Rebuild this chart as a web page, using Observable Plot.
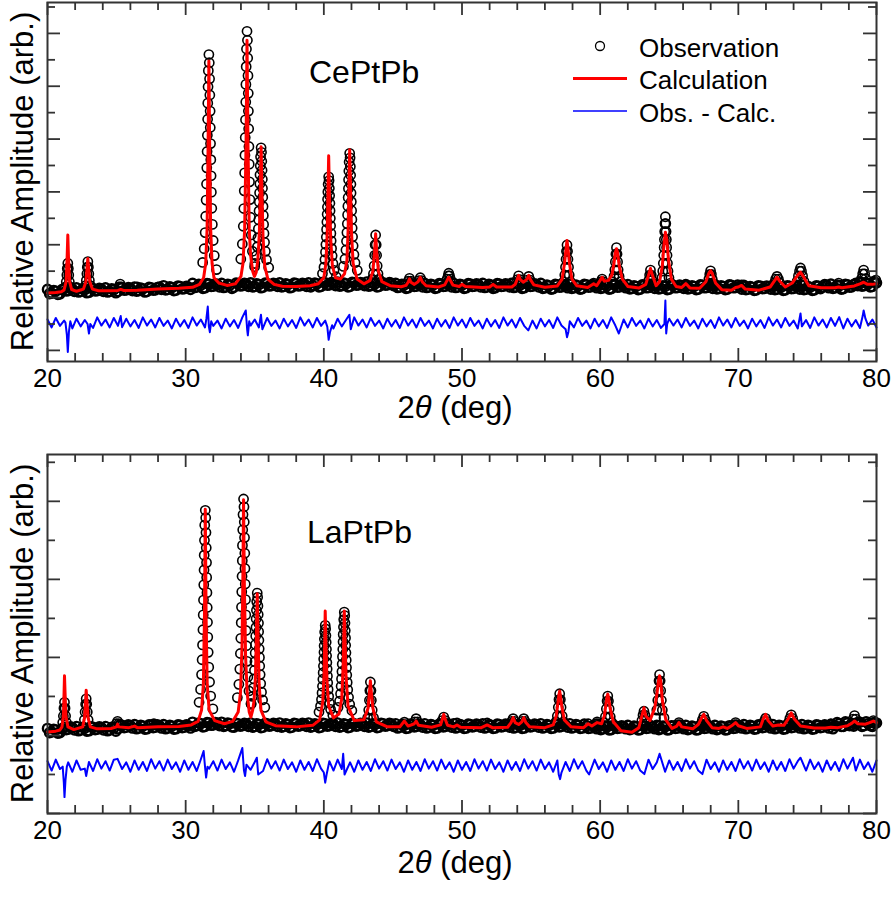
<!DOCTYPE html>
<html><head><meta charset="utf-8">
<script src="https://cdn.jsdelivr.net/npm/d3@7"></script>
<script src="https://cdn.jsdelivr.net/npm/@observablehq/plot@0.6"></script>
<style>body{margin:0;background:#fff} #chart svg{display:block}</style>
</head><body><div id="chart"></div>
<script>
// ---------- axes ----------
const xTickLabels = [20, 30, 40, 50, 60, 70, 80];
const xMajorTicks = [20, 30, 40, 50, 60, 70, 80];
const xMinorTicks = [22, 24, 26, 28, 32, 34, 36, 38, 42, 44, 46, 48, 52, 54, 56, 58, 62, 64, 66, 68, 72, 74, 76, 78];
const ceYMajor = [0, 2, 4, 6, 8, 10, 12];
const ceYMinor = [1, 3, 5, 7, 9, 11, 13];
const laYMajor = [0, 2, 4, 6, 8];
const laYMinor = [1, 3, 5, 7, 9];
const legendLabels = ["Observation", "Calculation", "Obs. - Calc."];

// ---------- CePtPb (top) ----------
const ceObsBase = [[20.0,2.31],[20.3,2.17],[20.6,2.24],[20.9,2.14],[21.2,2.34],[21.5,2.26],[21.8,2.32],[22.1,2.37],[22.4,2.23],[22.7,2.30],[23.0,2.20],[23.3,2.34],[23.6,2.26],[23.9,2.32],[24.2,2.37],[24.5,2.23],[24.8,2.30],[25.1,2.23],[25.4,2.37],[25.7,2.29],[26.0,2.35],[26.3,2.40],[26.6,2.26],[26.9,2.33],[27.2,2.23],[27.5,2.37],[27.8,2.29],[28.1,2.40],[28.4,2.45],[28.7,2.31],[29.0,2.38],[29.3,2.28],[29.6,2.42],[29.9,2.34],[30.2,2.40],[30.5,2.54],[30.8,2.40],[31.1,2.47],[31.4,2.37],[31.7,2.51],[32.0,2.43],[32.3,2.49],[32.6,2.54],[32.9,2.40],[33.2,2.47],[33.5,2.39],[33.8,2.53],[34.1,2.45],[34.4,2.51],[34.7,2.56],[35.0,2.42],[35.3,2.49],[35.6,2.39],[35.9,2.53],[36.2,2.45],[36.5,2.51],[36.8,2.56],[37.1,2.42],[37.4,2.49],[37.7,2.39],[38.0,2.53],[38.3,2.45],[38.6,2.51],[38.9,2.56],[39.2,2.45],[39.5,2.52],[39.8,2.42],[40.1,2.56],[40.4,2.48],[40.7,2.54],[41.0,2.59],[41.3,2.45],[41.6,2.52],[41.9,2.42],[42.2,2.56],[42.5,2.48],[42.8,2.54],[43.1,2.59],[43.4,2.45],[43.7,2.52],[44.0,2.42],[44.3,2.56],[44.6,2.48],[44.9,2.54],[45.2,2.54],[45.5,2.40],[45.8,2.47],[46.1,2.37],[46.4,2.51],[46.7,2.43],[47.0,2.49],[47.3,2.54],[47.6,2.40],[47.9,2.47],[48.2,2.37],[48.5,2.51],[48.8,2.43],[49.1,2.49],[49.4,2.54],[49.7,2.40],[50.0,2.47],[50.3,2.37],[50.6,2.51],[50.9,2.43],[51.2,2.49],[51.5,2.54],[51.8,2.40],[52.1,2.47],[52.4,2.37],[52.7,2.51],[53.0,2.43],[53.3,2.49],[53.6,2.54],[53.9,2.40],[54.2,2.47],[54.5,2.37],[54.8,2.51],[55.1,2.43],[55.4,2.49],[55.7,2.54],[56.0,2.37],[56.3,2.44],[56.6,2.34],[56.9,2.48],[57.2,2.40],[57.5,2.46],[57.8,2.51],[58.1,2.37],[58.4,2.44],[58.7,2.34],[59.0,2.48],[59.3,2.40],[59.6,2.46],[59.9,2.51],[60.2,2.37],[60.5,2.44],[60.8,2.34],[61.1,2.48],[61.4,2.40],[61.7,2.46],[62.0,2.49],[62.3,2.35],[62.6,2.42],[62.9,2.32],[63.2,2.46],[63.5,2.38],[63.8,2.44],[64.1,2.49],[64.4,2.35],[64.7,2.42],[65.0,2.32],[65.3,2.46],[65.6,2.38],[65.9,2.44],[66.2,2.49],[66.5,2.35],[66.8,2.42],[67.1,2.32],[67.4,2.46],[67.7,2.38],[68.0,2.44],[68.3,2.49],[68.6,2.35],[68.9,2.42],[69.2,2.32],[69.5,2.46],[69.8,2.38],[70.1,2.41],[70.4,2.46],[70.7,2.32],[71.0,2.39],[71.3,2.29],[71.6,2.43],[71.9,2.35],[72.2,2.41],[72.5,2.46],[72.8,2.32],[73.1,2.39],[73.4,2.29],[73.7,2.43],[74.0,2.35],[74.3,2.41],[74.6,2.46],[74.9,2.32],[75.2,2.39],[75.5,2.29],[75.8,2.43],[76.1,2.40],[76.4,2.46],[76.7,2.51],[77.0,2.37],[77.3,2.44],[77.6,2.34],[77.9,2.48],[78.2,2.40],[78.5,2.54],[78.8,2.59],[79.1,2.45],[79.4,2.52],[79.7,2.42],[80.0,2.56]];
const ceObsBase2 = [[20.15,2.15],[20.45,2.27],[20.75,2.12],[21.05,2.30],[21.35,2.25],[21.65,2.35],[21.95,2.23],[22.25,2.21],[22.55,2.33],[22.85,2.18],[23.15,2.36],[23.45,2.25],[23.75,2.35],[24.05,2.23],[24.35,2.21],[24.65,2.33],[24.95,2.18],[25.25,2.39],[25.55,2.28],[25.85,2.38],[26.15,2.26],[26.45,2.24],[26.75,2.36],[27.05,2.21],[27.35,2.39],[27.65,2.28],[27.95,2.38],[28.25,2.31],[28.55,2.29],[28.85,2.41],[29.15,2.26],[29.45,2.44],[29.75,2.33],[30.05,2.43],[30.35,2.31],[30.65,2.38],[30.95,2.50],[31.25,2.35],[31.55,2.53],[31.85,2.42],[32.15,2.52],[32.45,2.40],[32.75,2.38],[33.05,2.50],[33.35,2.35],[33.65,2.55],[33.95,2.44],[34.25,2.54],[34.55,2.42],[34.85,2.40],[35.15,2.52],[35.45,2.37],[35.75,2.55],[36.05,2.44],[36.35,2.54],[36.65,2.42],[36.95,2.40],[37.25,2.52],[37.55,2.37],[37.85,2.55],[38.15,2.44],[38.45,2.54],[38.75,2.42],[39.05,2.40],[39.35,2.55],[39.65,2.40],[39.95,2.58],[40.25,2.47],[40.55,2.57],[40.85,2.45],[41.15,2.43],[41.45,2.55],[41.75,2.40],[42.05,2.58],[42.35,2.47],[42.65,2.57],[42.95,2.45],[43.25,2.43],[43.55,2.55],[43.85,2.40],[44.15,2.58],[44.45,2.47],[44.75,2.57],[45.05,2.45],[45.35,2.38],[45.65,2.50],[45.95,2.35],[46.25,2.53],[46.55,2.42],[46.85,2.52],[47.15,2.40],[47.45,2.38],[47.75,2.50],[48.05,2.35],[48.35,2.53],[48.65,2.42],[48.95,2.52],[49.25,2.40],[49.55,2.38],[49.85,2.50],[50.15,2.35],[50.45,2.53],[50.75,2.42],[51.05,2.52],[51.35,2.40],[51.65,2.38],[51.95,2.50],[52.25,2.35],[52.55,2.53],[52.85,2.42],[53.15,2.52],[53.45,2.40],[53.75,2.38],[54.05,2.50],[54.35,2.35],[54.65,2.53],[54.95,2.42],[55.25,2.52],[55.55,2.40],[55.85,2.35],[56.15,2.47],[56.45,2.32],[56.75,2.50],[57.05,2.39],[57.35,2.49],[57.65,2.37],[57.95,2.35],[58.25,2.47],[58.55,2.32],[58.85,2.50],[59.15,2.39],[59.45,2.49],[59.75,2.37],[60.05,2.35],[60.35,2.47],[60.65,2.32],[60.95,2.50],[61.25,2.39],[61.55,2.49],[61.85,2.37],[62.15,2.33],[62.45,2.45],[62.75,2.30],[63.05,2.48],[63.35,2.37],[63.65,2.47],[63.95,2.35],[64.25,2.33],[64.55,2.45],[64.85,2.30],[65.15,2.48],[65.45,2.37],[65.75,2.47],[66.05,2.35],[66.35,2.33],[66.65,2.45],[66.95,2.30],[67.25,2.48],[67.55,2.37],[67.85,2.47],[68.15,2.35],[68.45,2.33],[68.75,2.45],[69.05,2.30],[69.35,2.48],[69.65,2.37],[69.95,2.47],[70.25,2.32],[70.55,2.30],[70.85,2.42],[71.15,2.27],[71.45,2.45],[71.75,2.34],[72.05,2.44],[72.35,2.32],[72.65,2.30],[72.95,2.42],[73.25,2.27],[73.55,2.45],[73.85,2.34],[74.15,2.44],[74.45,2.32],[74.75,2.30],[75.05,2.42],[75.35,2.27],[75.65,2.45],[75.95,2.34],[76.25,2.49],[76.55,2.37],[76.85,2.35],[77.15,2.47],[77.45,2.32],[77.75,2.50],[78.05,2.39],[78.35,2.49],[78.65,2.45],[78.95,2.43],[79.25,2.55],[79.55,2.40],[79.85,2.58]];
const ceObsPeaks = [[21.47,3.30],[21.43,3.1],[21.51,3.1],[21.40,2.85],[21.54,2.85],[21.36,2.6],[21.58,2.6],[21.3,2.4],[21.65,2.4],
[22.92,3.36],[22.88,3.15],[22.96,3.15],[22.85,2.9],[22.99,2.9],[22.81,2.65],[23.03,2.65],[22.75,2.45],[23.1,2.45],
[25.15,2.4],[25.26,2.51],[25.37,2.4],[26.5,2.4],
[31.68,11.20],[31.64,10.59],[31.62,9.98],[31.60,9.36],[31.59,8.75],[31.57,8.14],[31.55,7.53],[31.53,6.91],[31.51,6.30],[31.48,5.69],[31.45,5.08],[31.41,4.46],[31.34,3.85],[31.23,3.33],
[31.71,10.89],[31.73,10.28],[31.75,9.67],[31.77,9.06],[31.78,8.44],[31.80,7.83],[31.82,7.22],[31.84,6.61],[31.86,5.99],[31.89,5.38],[31.93,4.77],[31.99,4.16],[32.07,3.59],[32.23,3.06],
[34.44,12.08],[34.40,11.41],[34.38,10.74],[34.36,10.07],[34.35,9.40],[34.33,8.73],[34.31,8.06],[34.29,7.39],[34.27,6.72],[34.24,6.04],[34.21,5.37],[34.17,4.70],[34.10,4.03],[33.99,3.46],
[34.47,11.74],[34.49,11.07],[34.51,10.40],[34.53,9.73],[34.54,9.06],[34.56,8.39],[34.58,7.72],[34.60,7.05],[34.62,6.38],[34.65,5.71],[34.69,5.04],[34.75,4.37],[34.83,3.75],[34.99,3.17],
[35.46,7.67],[35.42,7.33],[35.40,6.99],[35.38,6.65],[35.37,6.31],[35.35,5.97],[35.33,5.62],[35.31,5.28],[35.29,4.94],[35.26,4.60],[35.23,4.26],[35.19,3.92],[35.12,3.58],[35.01,3.29],
[35.49,7.50],[35.51,7.16],[35.53,6.82],[35.55,6.48],[35.56,6.14],[35.58,5.80],[35.60,5.45],[35.62,5.11],[35.64,4.77],[35.67,4.43],[35.71,4.09],[35.77,3.75],[35.85,3.43],[36.01,3.14],
[40.35,6.57],[40.31,6.29],[40.29,6.00],[40.27,5.72],[40.26,5.43],[40.24,5.15],[40.22,4.86],[40.20,4.58],[40.18,4.29],[40.15,4.01],[40.12,3.72],[40.08,3.44],[40.01,3.15],[39.90,2.91],
[40.38,6.43],[40.40,6.14],[40.42,5.86],[40.44,5.57],[40.45,5.29],[40.47,5.00],[40.49,4.72],[40.51,4.43],[40.53,4.15],[40.56,3.86],[40.60,3.58],[40.66,3.29],[40.74,3.03],[40.90,2.79],
[41.87,7.46],[41.83,7.13],[41.81,6.79],[41.79,6.46],[41.78,6.13],[41.76,5.79],[41.74,5.46],[41.72,5.13],[41.70,4.79],[41.67,4.46],[41.64,4.13],[41.60,3.80],[41.53,3.46],[41.42,3.18],
[41.90,7.29],[41.92,6.96],[41.94,6.63],[41.96,6.29],[41.97,5.96],[41.99,5.63],[42.01,5.29],[42.03,4.96],[42.05,4.63],[42.08,4.30],[42.12,3.96],[42.18,3.63],[42.26,3.32],[42.42,3.03],
[43.75,4.37],[43.71,4.0],[43.79,4.0],[43.68,3.6],[43.82,3.6],[43.64,3.2],[43.86,3.2],[43.59,2.9],[43.92,2.9],[43.5,2.7],[44.0,2.7],
[46.1,2.62],[46.2,2.73],[46.3,2.62],[46.88,2.64],[46.98,2.75],[47.08,2.64],
[48.92,2.7],[49.0,2.82],[49.04,2.92],[49.1,2.82],[49.16,2.7],[50.0,2.48],[52.25,2.45],
[54.0,2.68],[54.1,2.82],[54.2,2.68],[54.73,2.66],[54.83,2.80],[54.93,2.66],
[57.6,3.99],[57.56,3.75],[57.64,3.75],[57.53,3.45],[57.67,3.45],[57.49,3.15],[57.71,3.15],[57.44,2.85],[57.76,2.85],[57.35,2.6],[57.85,2.6],
[59.53,2.55],[60.05,2.6],[60.14,2.70],[60.23,2.6],
[61.18,3.89],[61.14,3.65],[61.22,3.65],[61.1,3.35],[61.26,3.35],[61.06,3.05],[61.3,3.05],[61.0,2.8],[61.37,2.8],[60.9,2.6],[61.47,2.6],
[63.64,3.04],[63.58,2.85],[63.7,2.85],[63.52,2.65],[63.76,2.65],[63.44,2.5],
[64.72,5.06],[64.69,4.8],[64.75,4.8],[64.67,4.5],[64.77,4.5],[64.65,4.2],[64.79,4.2],[64.63,3.9],[64.81,3.9],[64.6,3.6],[64.84,3.6],[64.57,3.3],[64.87,3.3],[64.53,3.0],[64.91,3.0],[64.47,2.75],[64.98,2.75],[65.1,2.55],
[66.1,2.42],[66.2,2.48],[66.3,2.42],
[67.99,3.01],[67.93,2.88],[68.05,2.88],[67.87,2.7],[68.11,2.7],[67.78,2.52],[68.2,2.52],
[70.13,2.42],[70.23,2.48],[70.33,2.42],
[72.8,2.80],[72.7,2.7],[72.9,2.7],[72.6,2.55],[73.0,2.55],
[74.5,3.12],[74.43,3.0],[74.57,3.0],[74.35,2.82],[74.65,2.82],[74.25,2.62],[74.75,2.62],
[77.16,2.47],[77.26,2.55],[77.36,2.47],
[79.07,3.04],[79.0,2.9],[79.14,2.9],[78.92,2.72],[79.22,2.72],[78.82,2.55],[79.32,2.55],[79.8,2.62],[79.95,2.66]];
const ceCalc = [[20,2.17],[20.6,2.19],[21.0,2.22],[21.2,2.29],[21.35,2.6],[21.42,3.5],[21.47,4.37],[21.52,3.5],[21.6,2.6],[21.75,2.3],[22.1,2.24],[22.6,2.32],[22.78,2.6],[22.86,3.1],[22.92,3.48],[22.98,3.1],[23.06,2.6],[23.25,2.32],[23.7,2.26],[24.5,2.26],[25.1,2.27],[25.3,2.31],[25.5,2.27],[26.5,2.28],[28,2.32],[29.5,2.35],[30.5,2.39],[31.0,2.5],[31.3,2.75],[31.45,3.3],[31.55,4.6],[31.62,7.6],[31.68,10.96],[31.74,7.6],[31.81,4.6],[31.91,3.3],[32.05,2.75],[32.4,2.55],[33.0,2.46],[33.6,2.52],[34.0,2.8],[34.15,3.3],[34.27,4.6],[34.37,7.8],[34.44,11.74],[34.51,7.8],[34.6,4.6],[34.7,3.6],[34.85,3.0],[34.98,2.8],[35.1,2.95],[35.22,3.4],[35.33,4.4],[35.4,6.0],[35.46,7.71],[35.52,6.0],[35.6,4.3],[35.72,3.2],[35.95,2.7],[36.4,2.5],[37,2.43],[38,2.42],[39,2.45],[39.6,2.52],[40.0,2.75],[40.15,3.3],[40.25,4.5],[40.3,6.0],[40.35,7.37],[40.41,5.8],[40.5,4.2],[40.62,3.2],[40.85,2.75],[41.2,2.7],[41.5,2.9],[41.67,3.4],[41.76,4.6],[41.82,6.2],[41.87,7.6],[41.93,6.2],[42.0,4.5],[42.12,3.3],[42.4,2.7],[42.9,2.52],[43.35,2.65],[43.55,3.0],[43.67,3.7],[43.75,4.42],[43.83,3.7],[43.95,3.0],[44.2,2.6],[44.8,2.45],[45.6,2.41],[45.95,2.46],[46.1,2.58],[46.2,2.71],[46.3,2.58],[46.55,2.5],[46.82,2.6],[46.98,2.77],[47.12,2.6],[47.4,2.45],[48.3,2.4],[48.75,2.48],[48.92,2.65],[49.04,2.77],[49.16,2.65],[49.35,2.47],[49.8,2.42],[50.0,2.5],[50.25,2.42],[51.5,2.38],[52.0,2.4],[52.25,2.5],[52.5,2.4],[53.6,2.4],[53.85,2.5],[54.0,2.7],[54.1,2.84],[54.22,2.68],[54.45,2.58],[54.7,2.7],[54.83,2.84],[54.95,2.68],[55.2,2.48],[56.0,2.39],[56.9,2.44],[57.25,2.7],[57.42,3.3],[57.52,3.8],[57.6,4.16],[57.68,3.8],[57.78,3.3],[57.95,2.7],[58.3,2.45],[59.1,2.38],[59.53,2.52],[59.75,2.45],[60.0,2.65],[60.14,2.77],[60.3,2.62],[60.6,2.65],[60.85,2.85],[61.0,3.3],[61.1,3.7],[61.18,3.85],[61.26,3.7],[61.38,3.2],[61.6,2.7],[62.0,2.42],[62.8,2.36],[63.3,2.5],[63.5,2.85],[63.64,3.10],[63.78,2.85],[64.05,2.45],[64.3,2.6],[64.5,3.2],[64.62,4.0],[64.72,4.47],[64.82,4.2],[64.95,3.4],[65.15,2.7],[65.5,2.42],[65.9,2.38],[66.2,2.53],[66.5,2.36],[67.2,2.35],[67.65,2.6],[67.85,2.9],[67.99,3.02],[68.12,2.9],[68.35,2.55],[68.8,2.3],[69.5,2.28],[69.8,2.38],[70.0,2.4],[70.23,2.46],[70.5,2.32],[71.5,2.28],[72.3,2.4],[72.6,2.62],[72.8,2.77],[73.0,2.62],[73.4,2.4],[73.9,2.55],[74.3,2.85],[74.5,2.96],[74.7,2.8],[75.1,2.45],[76.0,2.37],[77.0,2.37],[77.26,2.4],[77.5,2.37],[78.4,2.44],[78.8,2.52],[79.07,2.58],[79.35,2.5],[79.7,2.5],[80,2.52]];
const ceDiff = [[20.0,1.17],[20.3,0.87],[20.6,1.23],[20.9,0.93],[21.2,1.13],[21.3,1.05],[21.4,0.6],[21.47,-0.06],[21.55,0.7],[21.65,1.1],[21.8,0.83],[22.1,1.20],[22.4,0.91],[22.7,1.15],[22.9,1.0],[23.0,0.64],[23.1,1.0],[23.3,0.85],[23.6,1.25],[23.9,0.94],[24.2,1.17],[24.5,0.87],[24.8,1.23],[25.1,0.93],[25.3,1.3],[25.4,0.88],[25.7,1.20],[26.0,0.91],[26.3,1.15],[26.6,0.85],[26.9,1.25],[27.2,0.94],[27.5,1.17],[27.8,0.87],[28.1,1.23],[28.4,0.93],[28.7,1.13],[29.0,0.83],[29.3,1.20],[29.6,0.91],[29.9,1.15],[30.2,0.85],[30.5,1.25],[30.8,0.94],[31.1,1.17],[31.4,0.87],[31.5,1.2],[31.6,1.66],[31.68,0.9],[31.75,0.69],[31.85,1.1],[32.0,0.93],[32.3,1.13],[32.6,0.83],[32.9,1.20],[33.2,0.91],[33.5,1.15],[33.8,0.85],[34.1,1.25],[34.35,1.51],[34.45,0.8],[34.5,0.57],[34.6,1.1],[34.7,0.94],[35.0,1.17],[35.3,0.87],[35.45,1.35],[35.55,0.8],[35.9,1.23],[36.2,0.93],[36.5,1.13],[36.8,0.83],[37.1,1.20],[37.4,0.91],[37.7,1.15],[38.0,0.85],[38.3,1.25],[38.6,0.94],[38.9,1.17],[39.2,0.87],[39.5,1.23],[39.8,0.93],[40.1,1.13],[40.25,0.9],[40.35,0.4],[40.45,0.7],[40.6,0.95],[40.7,0.83],[41.0,1.20],[41.3,0.91],[41.6,1.15],[41.85,1.35],[41.95,0.8],[42.2,1.25],[42.5,0.94],[42.8,1.17],[43.1,0.87],[43.4,1.23],[43.7,0.93],[44.0,1.13],[44.3,0.83],[44.6,1.20],[44.9,0.91],[45.2,1.15],[45.5,0.85],[45.8,1.25],[46.1,0.94],[46.4,1.17],[46.7,0.87],[47.0,1.23],[47.3,0.93],[47.6,1.13],[47.9,0.83],[48.2,1.20],[48.5,0.91],[48.8,1.15],[49.1,0.85],[49.4,1.25],[49.7,0.94],[50.0,1.17],[50.3,0.87],[50.6,1.23],[50.9,0.93],[51.2,1.13],[51.5,0.83],[51.8,1.20],[52.1,0.91],[52.4,1.15],[52.7,0.85],[53.0,1.25],[53.3,0.94],[53.6,1.17],[53.9,0.87],[54.2,1.23],[54.5,0.93],[54.8,0.76],[55.1,1.13],[55.4,0.83],[55.7,1.20],[56.0,0.91],[56.3,1.15],[56.6,0.85],[56.9,1.25],[57.2,0.94],[57.5,0.8],[57.6,0.5],[57.7,0.7],[57.8,1.1],[58.1,0.87],[58.4,1.23],[58.7,0.93],[59.0,1.13],[59.3,0.83],[59.6,1.20],[59.9,0.91],[60.2,1.15],[60.5,0.85],[60.8,1.25],[61.1,0.94],[61.35,0.64],[61.7,1.17],[62.0,0.87],[62.3,1.23],[62.6,0.93],[62.9,1.13],[63.2,0.83],[63.5,1.20],[63.8,0.91],[64.1,1.15],[64.4,0.85],[64.65,1.0],[64.72,1.89],[64.78,0.64],[64.85,1.0],[65.0,1.2],[65.3,0.94],[65.6,1.17],[65.9,0.87],[66.2,1.23],[66.5,0.93],[66.8,1.13],[67.1,0.83],[67.4,1.20],[67.7,0.91],[68.0,1.15],[68.3,0.85],[68.6,1.25],[68.9,0.94],[69.2,1.17],[69.5,0.87],[69.8,1.23],[70.1,0.93],[70.4,1.13],[70.7,0.83],[71.0,1.20],[71.3,0.91],[71.6,1.15],[71.9,0.85],[72.2,1.25],[72.5,0.94],[72.8,1.17],[73.1,0.87],[73.4,1.23],[73.7,0.93],[74.0,1.13],[74.3,0.83],[74.5,1.40],[74.6,0.91],[74.9,1.15],[75.2,0.85],[75.5,1.25],[75.8,0.94],[76.1,1.17],[76.4,0.87],[76.7,1.23],[77.0,0.93],[77.3,1.26],[77.6,0.83],[77.9,1.20],[78.2,0.91],[78.5,1.15],[78.8,0.85],[79.0,1.3],[79.07,1.51],[79.2,1.2],[79.4,0.94],[79.7,1.17],[80.0,0.87]];

// ---------- LaPtPb (bottom) ----------
const laObsBase = [[20.0,2.18],[20.3,2.09],[20.6,2.14],[20.9,2.07],[21.2,2.21],[21.5,2.16],[21.8,2.20],[22.1,2.23],[22.4,2.14],[22.7,2.19],[23.0,2.12],[23.3,2.21],[23.6,2.16],[23.9,2.20],[24.2,2.23],[24.5,2.14],[24.8,2.19],[25.1,2.17],[25.4,2.26],[25.7,2.21],[26.0,2.25],[26.3,2.28],[26.6,2.19],[26.9,2.24],[27.2,2.17],[27.5,2.26],[27.8,2.21],[28.1,2.25],[28.4,2.28],[28.7,2.19],[29.0,2.24],[29.3,2.17],[29.6,2.26],[29.9,2.21],[30.2,2.25],[30.5,2.34],[30.8,2.25],[31.1,2.30],[31.4,2.23],[31.7,2.32],[32.0,2.27],[32.3,2.31],[32.6,2.34],[32.9,2.25],[33.2,2.30],[33.5,2.21],[33.8,2.30],[34.1,2.25],[34.4,2.29],[34.7,2.32],[35.0,2.23],[35.3,2.28],[35.6,2.21],[35.9,2.30],[36.2,2.25],[36.5,2.29],[36.8,2.32],[37.1,2.23],[37.4,2.28],[37.7,2.21],[38.0,2.30],[38.3,2.25],[38.6,2.29],[38.9,2.32],[39.2,2.23],[39.5,2.28],[39.8,2.21],[40.1,2.30],[40.4,2.25],[40.7,2.29],[41.0,2.32],[41.3,2.23],[41.6,2.28],[41.9,2.21],[42.2,2.30],[42.5,2.25],[42.8,2.29],[43.1,2.32],[43.4,2.23],[43.7,2.28],[44.0,2.21],[44.3,2.30],[44.6,2.25],[44.9,2.29],[45.2,2.30],[45.5,2.21],[45.8,2.26],[46.1,2.19],[46.4,2.28],[46.7,2.23],[47.0,2.27],[47.3,2.30],[47.6,2.21],[47.9,2.26],[48.2,2.19],[48.5,2.28],[48.8,2.23],[49.1,2.27],[49.4,2.30],[49.7,2.21],[50.0,2.26],[50.3,2.19],[50.6,2.28],[50.9,2.23],[51.2,2.27],[51.5,2.30],[51.8,2.21],[52.1,2.26],[52.4,2.19],[52.7,2.28],[53.0,2.23],[53.3,2.27],[53.6,2.30],[53.9,2.21],[54.2,2.26],[54.5,2.19],[54.8,2.28],[55.1,2.23],[55.4,2.27],[55.7,2.30],[56.0,2.21],[56.3,2.26],[56.6,2.19],[56.9,2.28],[57.2,2.23],[57.5,2.27],[57.8,2.30],[58.1,2.21],[58.4,2.26],[58.7,2.19],[59.0,2.24],[59.3,2.19],[59.6,2.23],[59.9,2.26],[60.2,2.17],[60.5,2.22],[60.8,2.15],[61.1,2.24],[61.4,2.19],[61.7,2.23],[62.0,2.26],[62.3,2.17],[62.6,2.22],[62.9,2.15],[63.2,2.24],[63.5,2.19],[63.8,2.23],[64.1,2.26],[64.4,2.17],[64.7,2.22],[65.0,2.15],[65.3,2.24],[65.6,2.19],[65.9,2.23],[66.2,2.26],[66.5,2.17],[66.8,2.22],[67.1,2.15],[67.4,2.24],[67.7,2.19],[68.0,2.23],[68.3,2.26],[68.6,2.17],[68.9,2.22],[69.2,2.15],[69.5,2.24],[69.8,2.19],[70.1,2.25],[70.4,2.28],[70.7,2.19],[71.0,2.24],[71.3,2.17],[71.6,2.26],[71.9,2.21],[72.2,2.25],[72.5,2.28],[72.8,2.19],[73.1,2.24],[73.4,2.17],[73.7,2.26],[74.0,2.21],[74.3,2.25],[74.6,2.28],[74.9,2.19],[75.2,2.24],[75.5,2.17],[75.8,2.26],[76.1,2.21],[76.4,2.25],[76.7,2.28],[77.0,2.25],[77.3,2.30],[77.6,2.23],[77.9,2.32],[78.2,2.27],[78.5,2.31],[78.8,2.34],[79.1,2.25],[79.4,2.30],[79.7,2.23],[80.0,2.32]];
const laObsBase2 = [[20.15,2.07],[20.45,2.16],[20.75,2.06],[21.05,2.17],[21.35,2.15],[21.65,2.22],[21.95,2.14],[22.25,2.12],[22.55,2.21],[22.85,2.11],[23.15,2.22],[23.45,2.15],[23.75,2.22],[24.05,2.14],[24.35,2.12],[24.65,2.21],[24.95,2.11],[25.25,2.27],[25.55,2.20],[25.85,2.27],[26.15,2.19],[26.45,2.17],[26.75,2.26],[27.05,2.16],[27.35,2.27],[27.65,2.20],[27.95,2.27],[28.25,2.19],[28.55,2.17],[28.85,2.26],[29.15,2.16],[29.45,2.27],[29.75,2.20],[30.05,2.27],[30.35,2.19],[30.65,2.23],[30.95,2.32],[31.25,2.22],[31.55,2.33],[31.85,2.26],[32.15,2.33],[32.45,2.25],[32.75,2.23],[33.05,2.32],[33.35,2.22],[33.65,2.31],[33.95,2.24],[34.25,2.31],[34.55,2.23],[34.85,2.21],[35.15,2.30],[35.45,2.20],[35.75,2.31],[36.05,2.24],[36.35,2.31],[36.65,2.23],[36.95,2.21],[37.25,2.30],[37.55,2.20],[37.85,2.31],[38.15,2.24],[38.45,2.31],[38.75,2.23],[39.05,2.21],[39.35,2.30],[39.65,2.20],[39.95,2.31],[40.25,2.24],[40.55,2.31],[40.85,2.23],[41.15,2.21],[41.45,2.30],[41.75,2.20],[42.05,2.31],[42.35,2.24],[42.65,2.31],[42.95,2.23],[43.25,2.21],[43.55,2.30],[43.85,2.20],[44.15,2.31],[44.45,2.24],[44.75,2.31],[45.05,2.23],[45.35,2.19],[45.65,2.28],[45.95,2.18],[46.25,2.29],[46.55,2.22],[46.85,2.29],[47.15,2.21],[47.45,2.19],[47.75,2.28],[48.05,2.18],[48.35,2.29],[48.65,2.22],[48.95,2.29],[49.25,2.21],[49.55,2.19],[49.85,2.28],[50.15,2.18],[50.45,2.29],[50.75,2.22],[51.05,2.29],[51.35,2.21],[51.65,2.19],[51.95,2.28],[52.25,2.18],[52.55,2.29],[52.85,2.22],[53.15,2.29],[53.45,2.21],[53.75,2.19],[54.05,2.28],[54.35,2.18],[54.65,2.29],[54.95,2.22],[55.25,2.29],[55.55,2.21],[55.85,2.19],[56.15,2.28],[56.45,2.18],[56.75,2.29],[57.05,2.22],[57.35,2.29],[57.65,2.21],[57.95,2.19],[58.25,2.28],[58.55,2.18],[58.85,2.29],[59.15,2.18],[59.45,2.25],[59.75,2.17],[60.05,2.15],[60.35,2.24],[60.65,2.14],[60.95,2.25],[61.25,2.18],[61.55,2.25],[61.85,2.17],[62.15,2.15],[62.45,2.24],[62.75,2.14],[63.05,2.25],[63.35,2.18],[63.65,2.25],[63.95,2.17],[64.25,2.15],[64.55,2.24],[64.85,2.14],[65.15,2.25],[65.45,2.18],[65.75,2.25],[66.05,2.17],[66.35,2.15],[66.65,2.24],[66.95,2.14],[67.25,2.25],[67.55,2.18],[67.85,2.25],[68.15,2.17],[68.45,2.15],[68.75,2.24],[69.05,2.14],[69.35,2.25],[69.65,2.18],[69.95,2.25],[70.25,2.19],[70.55,2.17],[70.85,2.26],[71.15,2.16],[71.45,2.27],[71.75,2.20],[72.05,2.27],[72.35,2.19],[72.65,2.17],[72.95,2.26],[73.25,2.16],[73.55,2.27],[73.85,2.20],[74.15,2.27],[74.45,2.19],[74.75,2.17],[75.05,2.26],[75.35,2.16],[75.65,2.27],[75.95,2.20],[76.25,2.27],[76.55,2.19],[76.85,2.17],[77.15,2.33],[77.45,2.23],[77.75,2.35],[78.05,2.25],[78.35,2.24],[78.65,2.33],[78.95,2.23],[79.25,2.35],[79.55,2.25],[79.85,2.33]];
const laObsPeaks = [[21.23,2.85],[21.19,2.7],[21.27,2.7],[21.15,2.5],[21.31,2.5],[21.1,2.33],[21.37,2.33],
[22.8,2.94],[22.76,2.8],[22.84,2.8],[22.72,2.6],[22.88,2.6],[22.67,2.4],[22.94,2.4],
[24.98,2.3],[25.07,2.36],[25.16,2.3],[27.5,2.27],[27.7,2.3],[27.9,2.27],
[31.42,7.77],[31.38,7.39],[31.36,7.00],[31.34,6.62],[31.33,6.24],[31.31,5.86],[31.29,5.47],[31.27,5.09],[31.25,4.71],[31.22,4.32],[31.19,3.94],[31.15,3.56],[31.08,3.18],[30.97,2.85],
[31.45,7.58],[31.47,7.20],[31.49,6.81],[31.51,6.43],[31.52,6.05],[31.54,5.66],[31.56,5.28],[31.58,4.90],[31.60,4.52],[31.63,4.13],[31.67,3.75],[31.73,3.37],[31.81,3.01],[31.97,2.68],
[34.19,8.06],[34.15,7.66],[34.13,7.27],[34.11,6.87],[34.10,6.48],[34.08,6.08],[34.06,5.68],[34.04,5.29],[34.02,4.89],[33.99,4.49],[33.96,4.10],[33.92,3.70],[33.85,3.31],[33.74,2.97],
[34.22,7.86],[34.24,7.47],[34.26,7.07],[34.28,6.67],[34.29,6.28],[34.31,5.88],[34.33,5.48],[34.35,5.09],[34.37,4.69],[34.40,4.30],[34.44,3.90],[34.50,3.50],[34.58,3.14],[34.74,2.80],
[35.18,5.65],[35.14,5.43],[35.12,5.21],[35.10,4.99],[35.09,4.77],[35.07,4.55],[35.05,4.33],[35.03,4.11],[35.01,3.89],[34.98,3.67],[34.95,3.45],[34.91,3.22],[34.84,3.00],[34.73,2.82],
[35.21,5.54],[35.23,5.32],[35.25,5.10],[35.27,4.88],[35.28,4.66],[35.30,4.44],[35.32,4.22],[35.34,4.00],[35.36,3.78],[35.39,3.56],[35.43,3.33],[35.49,3.11],[35.57,2.91],[35.73,2.72],
[40.10,4.82],[40.06,4.65],[40.04,4.47],[40.02,4.30],[40.01,4.13],[39.99,3.96],[39.97,3.78],[39.95,3.61],[39.93,3.44],[39.90,3.26],[39.87,3.09],[39.83,2.92],[39.76,2.75],[39.65,2.60],
[40.13,4.73],[40.15,4.56],[40.17,4.39],[40.19,4.21],[40.20,4.04],[40.22,3.87],[40.24,3.70],[40.26,3.52],[40.28,3.35],[40.31,3.18],[40.35,3.00],[40.41,2.83],[40.49,2.67],[40.65,2.52],
[41.48,5.16],[41.44,4.97],[41.42,4.78],[41.40,4.59],[41.39,4.40],[41.37,4.21],[41.35,4.02],[41.33,3.83],[41.31,3.64],[41.28,3.45],[41.25,3.26],[41.21,3.07],[41.14,2.88],[41.03,2.72],
[41.51,5.07],[41.53,4.88],[41.55,4.69],[41.57,4.50],[41.58,4.31],[41.60,4.12],[41.62,3.93],[41.64,3.74],[41.66,3.55],[41.69,3.36],[41.73,3.17],[41.79,2.98],[41.87,2.80],[42.03,2.64],
[43.37,3.37],[43.33,3.15],[43.41,3.15],[43.3,2.9],[43.44,2.9],[43.25,2.65],[43.5,2.65],[43.17,2.45],[43.6,2.45],
[45.73,2.28],[45.83,2.34],[45.93,2.28],[46.58,2.35],[46.68,2.43],[46.78,2.35],[48.56,2.38],[48.68,2.47],[48.8,2.38],[49.64,2.32],[51.82,2.32],
[53.6,2.36],[53.7,2.43],[53.8,2.36],[54.37,2.36],[54.47,2.43],[54.57,2.36],
[57.07,3.07],[57.02,2.92],[57.12,2.92],[56.97,2.72],[57.17,2.72],[56.9,2.5],[57.25,2.5],[56.8,2.35],[57.35,2.35],
[59.13,2.3],[59.7,2.3],[59.78,2.35],[59.86,2.3],
[60.55,3.01],[60.5,2.88],[60.6,2.88],[60.45,2.68],[60.65,2.68],[60.38,2.48],[60.73,2.48],[60.28,2.33],[60.85,2.33],
[63.17,2.62],[63.1,2.52],[63.24,2.52],[63.02,2.38],[63.32,2.38],
[64.3,3.56],[64.26,3.4],[64.34,3.4],[64.22,3.15],[64.38,3.15],[64.17,2.9],[64.43,2.9],[64.1,2.65],[64.5,2.65],[64.0,2.45],[64.62,2.45],
[65.62,2.28],[65.7,2.33],[65.78,2.28],[67.5,2.49],[67.4,2.4],[67.6,2.4],[67.3,2.3],[67.7,2.3],[69.72,2.28],[69.8,2.33],[69.88,2.28],
[71.97,2.44],[71.87,2.36],[72.07,2.36],[73.83,2.53],[73.73,2.44],[73.93,2.44],[73.63,2.33],[74.03,2.33],[76.6,2.27],[76.7,2.3],[76.8,2.27],
[78.41,2.51],[78.31,2.42],[78.51,2.42],[78.2,2.32],[78.62,2.32],[79.77,2.38],[79.67,2.33],[79.87,2.33]];
const laCalc = [[20,2.09],[20.6,2.11],[20.9,2.14],[21.05,2.22],[21.15,2.5],[21.2,3.1],[21.23,3.53],[21.27,3.1],[21.33,2.5],[21.48,2.22],[21.9,2.15],[22.55,2.22],[22.68,2.45],[22.75,2.85],[22.8,3.16],[22.86,2.85],[22.94,2.45],[23.1,2.22],[23.6,2.17],[24.6,2.18],[25.0,2.22],[25.07,2.29],[25.15,2.22],[25.9,2.2],[26.3,2.24],[26.5,2.2],[28,2.22],[29.5,2.23],[30.4,2.27],[30.9,2.36],[31.15,2.65],[31.28,3.3],[31.36,5.0],[31.42,7.8],[31.48,5.0],[31.56,3.3],[31.7,2.65],[32.1,2.38],[32.8,2.3],[33.4,2.36],[33.8,2.6],[33.97,3.1],[34.08,4.3],[34.14,6.0],[34.19,8.04],[34.25,5.8],[34.34,4.0],[34.45,3.1],[34.6,2.6],[34.72,2.47],[34.85,2.65],[34.95,2.9],[35.05,3.5],[35.12,4.6],[35.18,5.63],[35.24,4.5],[35.32,3.3],[35.45,2.65],[35.8,2.35],[36.5,2.25],[38,2.22],[39.2,2.26],[39.7,2.4],[39.92,2.85],[40.02,3.6],[40.07,4.5],[40.1,5.19],[40.15,4.4],[40.23,3.4],[40.35,2.75],[40.7,2.45],[41.1,2.55],[41.3,2.95],[41.4,3.8],[41.45,4.6],[41.48,5.19],[41.53,4.5],[41.61,3.5],[41.75,2.75],[42.2,2.38],[42.9,2.4],[43.2,2.7],[43.3,3.1],[43.37,3.4],[43.44,3.1],[43.55,2.7],[43.8,2.35],[44.6,2.22],[45.5,2.22],[45.83,2.37],[46.1,2.24],[46.55,2.3],[46.68,2.37],[46.85,2.26],[47.8,2.21],[48.45,2.27],[48.58,2.42],[48.68,2.54],[48.78,2.42],[48.95,2.26],[49.4,2.22],[49.64,2.27],[49.9,2.21],[51.4,2.2],[51.82,2.27],[52.2,2.2],[53.3,2.21],[53.55,2.33],[53.7,2.46],[53.85,2.33],[54.1,2.28],[54.33,2.35],[54.47,2.46],[54.62,2.33],[54.9,2.22],[56.0,2.2],[56.6,2.27],[56.82,2.5],[56.95,2.85],[57.02,3.05],[57.07,3.14],[57.13,3.0],[57.22,2.75],[57.4,2.4],[57.9,2.22],[58.8,2.2],[59.13,2.30],[59.4,2.24],[59.78,2.33],[60.1,2.3],[60.3,2.5],[60.42,2.8],[60.5,3.0],[60.55,3.06],[60.62,2.95],[60.72,2.7],[60.95,2.35],[61.5,2.12],[62.3,2.08],[62.8,2.2],[63.02,2.5],[63.17,2.71],[63.3,2.5],[63.6,2.38],[63.95,2.7],[64.12,3.1],[64.22,3.4],[64.3,3.53],[64.38,3.4],[64.5,2.9],[64.75,2.4],[65.2,2.18],[65.55,2.24],[65.7,2.33],[65.9,2.22],[66.7,2.17],[67.1,2.28],[67.3,2.42],[67.5,2.54],[67.7,2.38],[68.1,2.2],[68.6,2.18],[68.9,2.22],[69.2,2.18],[69.6,2.27],[69.8,2.33],[70.0,2.25],[70.6,2.18],[71.6,2.22],[71.8,2.42],[71.97,2.54],[72.15,2.38],[72.5,2.24],[72.9,2.27],[73.3,2.26],[73.6,2.42],[73.83,2.58],[74.05,2.42],[74.5,2.24],[75.5,2.19],[76.3,2.19],[76.7,2.21],[77.2,2.2],[77.9,2.25],[78.2,2.31],[78.41,2.37],[78.65,2.3],[79.2,2.29],[79.5,2.33],[79.77,2.37],[80,2.33]];
const laDiff = [[20.0,1.34],[20.3,1.10],[20.6,1.38],[20.9,1.14],[21.1,1.2],[21.18,0.8],[21.23,0.42],[21.3,0.85],[21.4,1.2],[21.5,1.31],[21.8,1.07],[22.1,1.36],[22.4,1.12],[22.7,1.15],[22.8,0.96],[22.9,1.15],[23.0,1.32],[23.3,1.09],[23.6,1.39],[23.9,1.15],[24.2,1.34],[24.5,1.10],[24.8,1.38],[25.07,1.4],[25.4,1.14],[25.7,1.31],[26.0,1.07],[26.3,1.36],[26.6,1.12],[26.9,1.32],[27.2,1.09],[27.5,1.39],[27.8,1.15],[28.1,1.34],[28.4,1.10],[28.7,1.38],[29.0,1.14],[29.3,1.31],[29.6,1.07],[29.9,1.36],[30.2,1.12],[30.5,1.32],[30.8,1.09],[31.1,1.39],[31.3,1.6],[31.4,1.2],[31.48,0.92],[31.58,1.2],[31.7,1.15],[32.0,1.34],[32.3,1.10],[32.6,1.38],[32.9,1.14],[33.2,1.31],[33.5,1.07],[33.8,1.36],[34.1,1.68],[34.22,1.1],[34.3,0.96],[34.4,1.25],[34.7,1.12],[35.0,1.32],[35.15,1.43],[35.25,1.0],[35.6,1.09],[35.9,1.39],[36.2,1.15],[36.5,1.34],[36.8,1.10],[37.1,1.38],[37.4,1.14],[37.7,1.31],[38.0,1.07],[38.3,1.36],[38.6,1.12],[38.9,1.32],[39.2,1.09],[39.5,1.39],[39.8,1.15],[40.0,1.05],[40.1,0.79],[40.2,1.0],[40.4,1.34],[40.7,1.10],[41.0,1.38],[41.3,1.14],[41.4,1.53],[41.5,1.0],[41.9,1.31],[42.2,1.07],[42.5,1.36],[42.8,1.12],[43.1,1.32],[43.4,1.09],[43.7,1.39],[44.0,1.15],[44.3,1.34],[44.6,1.10],[44.9,1.38],[45.2,1.14],[45.5,1.31],[45.8,1.07],[46.1,1.36],[46.4,1.12],[46.7,1.32],[47.0,1.09],[47.3,1.39],[47.6,1.15],[47.9,1.34],[48.2,1.10],[48.5,1.38],[48.8,1.14],[49.1,1.31],[49.4,1.07],[49.7,1.36],[50.0,1.12],[50.3,1.32],[50.6,1.09],[50.9,1.39],[51.2,1.15],[51.5,1.34],[51.8,1.10],[52.1,1.38],[52.4,1.14],[52.7,1.31],[53.0,1.07],[53.3,1.36],[53.6,1.12],[53.9,1.32],[54.2,1.09],[54.5,1.39],[54.8,1.15],[55.1,1.34],[55.4,1.10],[55.7,1.38],[56.0,1.14],[56.3,1.31],[56.6,1.07],[56.9,1.36],[57.0,1.0],[57.1,0.88],[57.2,1.05],[57.5,1.32],[57.8,1.09],[58.1,1.39],[58.4,1.15],[58.7,1.34],[59.0,1.10],[59.2,1.0],[59.6,1.38],[59.9,1.14],[60.2,1.31],[60.5,1.07],[60.8,1.36],[61.1,1.12],[61.4,1.32],[61.7,1.09],[62.0,1.39],[62.3,1.15],[62.6,1.34],[62.9,1.10],[63.2,1.01],[63.5,1.38],[63.8,1.14],[64.1,1.31],[64.3,1.53],[64.7,1.07],[65.0,1.36],[65.3,1.12],[65.6,1.32],[65.9,1.09],[66.2,1.39],[66.5,1.15],[66.8,1.34],[67.1,1.10],[67.4,1.01],[67.7,1.38],[68.0,1.14],[68.3,1.31],[68.6,1.07],[68.9,1.36],[69.2,1.12],[69.5,1.32],[69.8,1.09],[70.1,1.39],[70.4,1.15],[70.7,1.34],[71.0,1.10],[71.3,1.38],[71.6,1.14],[71.9,1.31],[72.2,1.07],[72.5,1.36],[72.8,1.12],[73.1,1.32],[73.4,1.09],[73.7,1.39],[74.0,1.15],[74.3,1.34],[74.5,1.43],[74.9,1.10],[75.2,1.38],[75.5,1.14],[75.8,1.31],[76.1,1.07],[76.4,1.36],[76.7,1.12],[77.0,1.32],[77.3,1.09],[77.6,1.39],[77.9,1.15],[78.3,1.43],[78.5,1.10],[78.8,1.38],[79.1,1.14],[79.4,1.31],[79.7,1.07],[80.0,1.36]];

// ---------- drawing ----------
const FONT = "'Liberation Sans', Arial, Helvetica, sans-serif";
const pts = a => a.map(([x, y]) => ({x, y}));

function panel(o) {
  const W = 894, ml = 47, mr = 18;
  const innerH = o.height - o.mt - o.mb;
  const innerW = W - ml - mr;
  const tickStyle = {stroke: "#333", strokeWidth: 1.8};
  const svg = Plot.plot({
    width: W, height: o.height,
    marginLeft: ml, marginRight: mr, marginTop: o.mt, marginBottom: o.mb,
    style: {fontFamily: FONT, background: "white", overflow: "visible"},
    x: {domain: [20, 80], axis: null},
    y: {domain: o.yDomain, axis: null},
    marks: [
      Plot.line(pts(o.diff), {x: "x", y: "y", stroke: "#0000ff", strokeWidth: 2}),
      Plot.dot(pts(o.obsBase).concat(pts(o.obsBase2)), {x: "x", y: "y", r: 4.6, fill: "none", stroke: "black", strokeWidth: 2.4}),
      Plot.dot(pts(o.obsPeaks), {x: "x", y: "y", r: 4.6, fill: "none", stroke: "black", strokeWidth: 1.6}),
      Plot.line(pts(o.calc), {x: "x", y: "y", stroke: "#ff0000", strokeWidth: 3}),
      Plot.tickX(xMajorTicks, {x: d => d, insetTop: innerH - 13, ...tickStyle}),
      Plot.tickX(xMinorTicks, {x: d => d, insetTop: innerH - 8, ...tickStyle}),
      Plot.tickX(xMajorTicks, {x: d => d, insetBottom: innerH - 13, ...tickStyle}),
      Plot.tickX(xMinorTicks, {x: d => d, insetBottom: innerH - 8, ...tickStyle}),
      Plot.tickY(o.yMajor, {y: d => d, insetRight: innerW - 13, ...tickStyle}),
      Plot.tickY(o.yMinor, {y: d => d, insetRight: innerW - 8, ...tickStyle}),
      Plot.tickY(o.yMajor, {y: d => d, insetLeft: innerW - 13, ...tickStyle}),
      Plot.tickY(o.yMinor, {y: d => d, insetLeft: innerW - 8, ...tickStyle}),
      Plot.frame({stroke: "#333", strokeWidth: 2}),
      Plot.text(xTickLabels, {x: d => d, text: d => String(d), frameAnchor: "bottom", dy: 25, fontSize: 26, fill: "black"})
    ]
  });
  const s = d3.select(svg);
  const cy = o.mt + innerH / 2;
  s.append("text").attr("transform", `translate(33,${cy}) rotate(-90)`)
    .attr("text-anchor", "middle").attr("font-size", 31).attr("font-family", FONT)
    .attr("fill", "black").text("Relative Amplitude (arb.)");
  const xl = s.append("text").attr("x", 455).attr("y", o.mt + innerH + o.xLabelDy)
    .attr("text-anchor", "middle").attr("font-size", 31).attr("font-family", FONT).attr("fill", "black");
  xl.append("tspan").text("2");
  xl.append("tspan").attr("font-style", "italic").text("\u03B8");
  xl.append("tspan").text(" (deg)");
  s.append("text").attr("x", o.nameX).attr("y", o.nameY).attr("font-size", 32)
    .attr("text-anchor", "start").attr("font-family", FONT).attr("fill", "black").text(o.name);
  if (o.legend) {
    const g = s.append("g").attr("font-family", FONT).attr("font-size", 26).attr("fill", "black").attr("text-anchor", "start");
    g.append("circle").attr("cx", 600).attr("cy", 46).attr("r", 4.5).attr("fill", "none").attr("stroke", "black").attr("stroke-width", 1.3);
    g.append("line").attr("x1", 573).attr("x2", 627).attr("y1", 78.5).attr("y2", 78.5).attr("stroke", "#ff0000").attr("stroke-width", 3);
    g.append("line").attr("x1", 573).attr("x2", 627).attr("y1", 111).attr("y2", 111).attr("stroke", "#0000ff").attr("stroke-width", 1.5);
    legendLabels.forEach((t, i) => g.append("text").attr("x", 639).attr("y", 56.5 + i * 32.5).attr("text-anchor", "start").text(t));
  }
  return svg;
}

const chart = document.getElementById("chart");
chart.appendChild(panel({
  height: 440, mt: 2, mb: 79, yDomain: [-0.42, 13.17], yMajor: ceYMajor, yMinor: ceYMinor,
  obsBase: ceObsBase, obsBase2: ceObsBase2, obsPeaks: ceObsPeaks, calc: ceCalc, diff: ceDiff,
  name: "CePtPb", nameX: 309, nameY: 83, legend: true, xLabelDy: 57
}));
chart.appendChild(panel({
  height: 458, mt: 14, mb: 85, yDomain: [0, 9.2], yMajor: laYMajor, yMinor: laYMinor,
  obsBase: laObsBase, obsBase2: laObsBase2, obsPeaks: laObsPeaks, calc: laCalc, diff: laDiff,
  name: "LaPtPb", nameX: 307, nameY: 103, legend: false, xLabelDy: 60
}));
</script>
</body></html>
